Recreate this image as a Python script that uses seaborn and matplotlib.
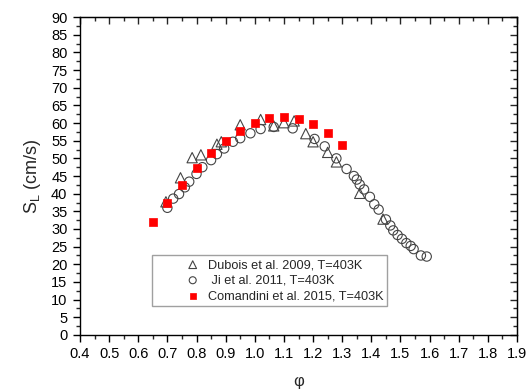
import numpy as np
import pandas as pd
import matplotlib
matplotlib.use("Agg")
import matplotlib.pyplot as plt
from matplotlib.ticker import MultipleLocator
import seaborn as sns

# Laminar burning velocity versus equivalence ratio, T = 403 K
dubois_phi = [0.695, 0.745, 0.785, 0.815, 0.87, 0.885, 0.95, 1.02, 1.065, 1.10, 1.135,
              1.175, 1.20, 1.25, 1.28, 1.36, 1.44]
dubois_sl = [37.7, 44.5, 50.2, 51.0, 54.0, 54.7, 59.5, 61.0, 59.2, 60.1, 60.6,
             57.0, 54.7, 51.7, 49.0, 40.1, 32.8]

ji_phi = [0.70, 0.72, 0.74, 0.76, 0.775, 0.80, 0.82, 0.85, 0.87, 0.895, 0.925, 0.95,
          0.985, 1.02, 1.065, 1.13, 1.205, 1.24, 1.28, 1.315, 1.34, 1.35, 1.36, 1.375,
          1.395, 1.41, 1.425, 1.45, 1.465, 1.475, 1.49, 1.505, 1.52, 1.535, 1.545,
          1.57, 1.59]
ji_sl = [36.0, 38.6, 39.9, 41.8, 43.4, 45.6, 47.5, 49.5, 51.2, 52.8, 54.7, 55.7,
         57.1, 58.3, 58.9, 58.5, 55.5, 53.4, 50.0, 47.0, 45.0, 44.0, 42.6, 41.2,
         39.1, 37.0, 35.5, 32.7, 31.0, 29.6, 28.3, 27.2, 26.0, 25.2, 24.3,
         22.5, 22.2]

comandini_phi = [0.65, 0.70, 0.75, 0.80, 0.85, 0.90, 0.95, 1.00, 1.05, 1.10, 1.15,
                 1.20, 1.25, 1.30]
comandini_sl = [32.0, 37.4, 42.5, 47.2, 51.4, 54.9, 57.7, 60.0, 61.3, 61.8, 61.2,
                59.7, 57.2, 53.8]

labels = ["Dubois et al. 2009, T=403K", " Ji et al. 2011, T=403K",
          "Comandini et al. 2015, T=403K"]

sns.set_style("ticks")
plt.rcParams["font.family"] = ["Liberation Sans", "DejaVu Sans"]
plt.rcParams["mathtext.fontset"] = "custom"
plt.rcParams["mathtext.rm"] = "Liberation Sans"
plt.rcParams["mathtext.it"] = "Liberation Sans:italic"

fig = plt.figure(figsize=(5.26, 3.89), dpi=100)
ax = fig.add_axes([0.152, 0.139, 0.831, 0.817])

sns.scatterplot(x=dubois_phi, y=dubois_sl, marker="^", s=55, facecolor="none",
                edgecolor="#444444", linewidth=0.8, label=labels[0], ax=ax)
sns.scatterplot(x=ji_phi, y=ji_sl, marker="o", s=45, facecolor="none",
                edgecolor="#444444", linewidth=0.8, label=labels[1], ax=ax)
sns.scatterplot(x=comandini_phi, y=comandini_sl, marker="s", s=40, color="#ff0000",
                edgecolor="#ff0000", linewidth=0.5, label=labels[2], ax=ax)

ax.set_xlim(0.4, 1.9)
ax.set_ylim(0, 90)
ax.xaxis.set_major_locator(MultipleLocator(0.1))
ax.xaxis.set_minor_locator(MultipleLocator(0.05))
ax.yaxis.set_major_locator(MultipleLocator(5))
ax.yaxis.set_minor_locator(MultipleLocator(2.5))
ax.xaxis.set_major_formatter(plt.FuncFormatter(lambda v, p: f"{v:.1f}"))

for s in ax.spines.values():
    s.set_linewidth(1.0)
    s.set_color("black")

ax.tick_params(axis="both", which="major", length=5, width=1.0, direction="out",
               labelsize=10.5, colors="black", pad=4)
ax.tick_params(axis="both", which="minor", length=3, width=1.0, direction="out")

# mirrored ticks on the top and right spines, pointing inward
sec_x = ax.secondary_xaxis("top")
sec_x.xaxis.set_major_locator(MultipleLocator(0.1))
sec_x.xaxis.set_minor_locator(MultipleLocator(0.05))
sec_x.tick_params(which="major", direction="in", length=5, width=1.0, labeltop=False)
sec_x.tick_params(which="minor", direction="in", length=3, width=1.0)
sec_y = ax.secondary_yaxis("right")
sec_y.yaxis.set_major_locator(MultipleLocator(5))
sec_y.yaxis.set_minor_locator(MultipleLocator(2.5))
sec_y.tick_params(which="major", direction="in", length=5, width=1.0, labelright=False)
sec_y.tick_params(which="minor", direction="in", length=3, width=1.0)

ax.set_xlabel("φ", fontsize=12, labelpad=9)
ax.set_ylabel("S$_\\mathregular{L}$ (cm/s)", fontsize=13, labelpad=6)

# wide blank margin left of the legend symbols
leg = ax.legend(loc="lower left", bbox_to_anchor=(0.165, 0.091), borderaxespad=0,
                frameon=True, fancybox=False, fontsize=9.2, handletextpad=-1.7,
                borderpad=0.3, labelspacing=0.28, handlelength=5.76, markerscale=0.75)
leg.get_frame().set_edgecolor("#888888")
leg.get_frame().set_linewidth(1.0)

fig.savefig("out.png", dpi=100)
